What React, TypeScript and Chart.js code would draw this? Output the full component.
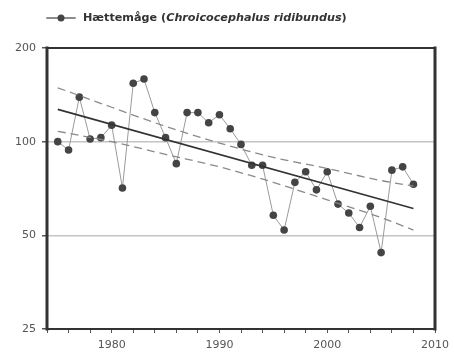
import React, { useEffect, useRef } from "react";
import { Chart, registerables } from "chart.js";

Chart.register(...registerables);

const years = [1975,1976,1977,1978,1979,1980,1981,1982,1983,1984,1985,1986,1987,1988,1989,1990,1991,1992,1993,1994,1995,1996,1997,1998,1999,2000,2001,2002,2003,2004,2005,2006,2007,2008];
const index = [100,94,139,102,103,113,71,154,159,124,103,85,124,124,115,122,110,98,84,84,58,52,74,80,70,80,63,59,53,62,44,81,83,73];

const trendYears = [1975, 2008];
const trendValues = [127, 61];

const bandYears = [1975, 1980, 1985, 1990, 1995, 2000, 2005, 2008];
const upperBand = [149, 129, 112, 99, 89, 82, 75, 72];
const lowerBand = [108, 100, 91, 83, 74, 65, 57, 52];

const yTicks = [25, 50, 100, 200];
const gridValues = [50, 100];

const legendName = "Hættemåge";
const legendLatin = "Chroicocephalus ridibundus";

const FONT = "'DejaVu Sans', Verdana, sans-serif";

export default function App() {
  const ref = useRef<HTMLCanvasElement | null>(null);

  useEffect(() => {
    const canvas = ref.current;
    if (!canvas) return;

    const framePlugin = {
      id: "frame",
      afterDraw(chart: any) {
        const { ctx, chartArea: a } = chart;
        ctx.save();
        ctx.strokeStyle = "#333";
        ctx.lineCap = "square";
        ctx.lineWidth = 2;
        ctx.beginPath();
        ctx.moveTo(a.left, a.top);
        ctx.lineTo(a.right, a.top);
        ctx.moveTo(a.left, a.bottom);
        ctx.lineTo(a.right, a.bottom);
        ctx.stroke();
        ctx.lineWidth = 3;
        ctx.beginPath();
        ctx.moveTo(a.left, a.top);
        ctx.lineTo(a.left, a.bottom);
        ctx.moveTo(a.right, a.top);
        ctx.lineTo(a.right, a.bottom);
        ctx.stroke();

        // legend
        const y = 18;
        ctx.strokeStyle = "#666";
        ctx.lineWidth = 1.5;
        ctx.beginPath();
        ctx.moveTo(47, y);
        ctx.lineTo(75, y);
        ctx.stroke();
        ctx.fillStyle = "#444";
        ctx.beginPath();
        ctx.arc(61, y, 3.5, 0, Math.PI * 2);
        ctx.fill();
        ctx.fillStyle = "#333";
        ctx.textBaseline = "middle";
        ctx.textAlign = "left";
        const p1 = legendName + " (";
        const p3 = ")";
        const measure = (size: number) => {
          ctx.font = `bold ${size}px ${FONT}`;
          let w = ctx.measureText(p1).width + ctx.measureText(p3).width;
          ctx.font = `italic bold ${size}px ${FONT}`;
          w += ctx.measureText(legendLatin).width;
          return w;
        };
        const size = Math.min(12, 10 * (264 / measure(10)));
        let x = 83;
        ctx.font = `bold ${size}px ${FONT}`;
        ctx.fillText(p1, x, y);
        x += ctx.measureText(p1).width;
        ctx.font = `italic bold ${size}px ${FONT}`;
        ctx.fillText(legendLatin, x, y);
        x += ctx.measureText(legendLatin).width;
        ctx.font = `bold ${size}px ${FONT}`;
        ctx.fillText(p3, x, y);
        ctx.restore();
      },
    };

    const chart = new Chart(canvas, {
      type: "line",
      data: {
        datasets: [
          {
            data: bandYears.map((x, i) => ({ x, y: upperBand[i] })),
            borderColor: "#8a8a8a",
            borderWidth: 1.3,
            borderDash: [8, 5],
            pointRadius: 0,
            cubicInterpolationMode: "monotone",
          },
          {
            data: bandYears.map((x, i) => ({ x, y: lowerBand[i] })),
            borderColor: "#8a8a8a",
            borderWidth: 1.3,
            borderDash: [8, 5],
            pointRadius: 0,
            cubicInterpolationMode: "monotone",
          },
          {
            data: trendYears.map((x, i) => ({ x, y: trendValues[i] })),
            borderColor: "#333",
            borderWidth: 1.6,
            pointRadius: 0,
          },
          {
            data: years.map((x, i) => ({ x, y: index[i] })),
            borderColor: "#9a9a9a",
            borderWidth: 1,
            pointRadius: 3.8,
            pointBackgroundColor: "#444",
            pointBorderColor: "#444",
            pointBorderWidth: 0,
          },
        ],
      } as any,
      options: {
        responsive: false,
        animation: false,
        layout: { padding: { top: 48, right: 19, left: 0, bottom: 0 } },
        plugins: {
          legend: { display: false },
          tooltip: { enabled: false },
        },
        scales: {
          x: {
            type: "linear",
            min: 1974,
            max: 2010,
            afterFit: (s: any) => { s.height = 27; },
            ticks: {
              stepSize: 2,
              autoSkip: false,
              maxRotation: 0,
              padding: 6,
              color: "#555",
              font: { family: FONT, size: 11 },
              callback: (v: any) => (Number(v) % 10 === 0 ? String(v) : ""),
            },
            grid: {
              drawOnChartArea: false,
              drawTicks: true,
              tickLength: 4,
              tickColor: "#555",
            },
            border: { display: false },
          },
          y: {
            type: "logarithmic",
            min: 25,
            max: 200,
            afterFit: (s: any) => { s.width = 47; },
            afterBuildTicks: (s: any) => {
              s.ticks = yTicks.map((v) => ({ value: v }));
            },
            ticks: {
              padding: 6,
              color: "#555",
              font: { family: FONT, size: 11 },
              callback: (v: any) => String(v),
            },
            grid: {
              color: (c: any) => (gridValues.includes(c.tick?.value) ? "#c4c4c4" : "rgba(0,0,0,0)"),
              lineWidth: 1.5,
              drawTicks: true,
              tickLength: 5,
              tickColor: "#555",
            },
            border: { display: false },
          },
        },
      } as any,
      plugins: [framePlugin],
    });

    return () => chart.destroy();
  }, []);

  return (
    <div style={{ position: "fixed", left: 0, top: 0, width: 455, height: 356, background: "#fff" }}>
      <canvas ref={ref} width={455} height={356} />
    </div>
  );
}
